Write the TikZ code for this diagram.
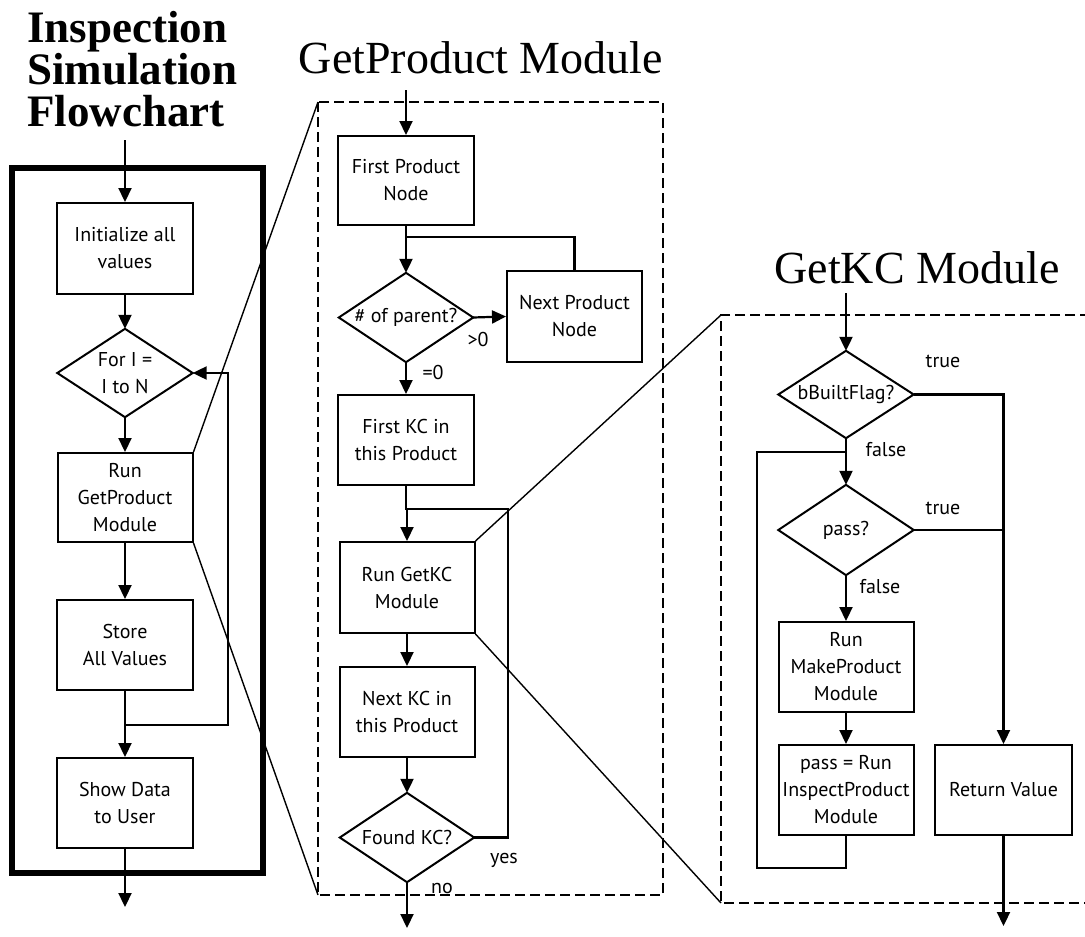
\documentclass[tikz,border=0pt]{standalone}
\usepackage{fontspec}
\setmainfont{Liberation Serif}
\newfontfamily\boxfont{PT Sans}
\usetikzlibrary{arrows.meta}
\newcommand\drawdiam[1]{\draw[diamline] (#1.north) -- (#1.east) -- (#1.south) -- (#1.west) -- cycle;}
\begin{document}
\begin{tikzpicture}[x=1pt,y=-1pt,
  conn/.style={line width=2.2pt,-{Triangle[length=14pt,width=13pt]}},
  plain/.style={line width=2.2pt},
  zoomline/.style={line width=1.4pt},
  frameA/.style={line width=6.5pt},
  frameB/.style={line width=2.2pt,dash pattern=on 10pt off 5pt},
  procbox/.style={draw,line width=2pt,rectangle,inner sep=1pt,align=center,
    font=\boxfont\fontsize{20}{27}\selectfont},
  decision/.style={rectangle,inner sep=0pt,align=center,
    font=\boxfont\fontsize{20}{27}\selectfont},
  diamline/.style={line width=2pt,line join=miter},
  lbl/.style={font=\boxfont\fontsize{20}{22}\selectfont,inner sep=0pt},
  title/.style={font=\fontsize{46}{46}\selectfont,inner sep=0pt}
]
\useasboundingbox (0,0) rectangle (1085,937);
% titles
\node[anchor=north west,align=left,inner sep=0pt,font=\bfseries\fontsize{45}{42}\selectfont] (t1) at (27,11) {Inspection\\Simulation\\Flowchart};
\node[title,anchor=base] (t2) at (481,73) {GetProduct Module};
\node[title,anchor=base] (t3) at (917,283) {GetKC Module};

% ---- left panel
\draw[frameA] (12,168) rectangle (263,873);
\node[procbox,minimum width=136pt,minimum height=91pt] (init) at (125,248.5) {Initialize all\\values};
\node[decision,minimum width=135pt,minimum height=88pt] (fori) at (125,373) {For I =\\I to N};
\drawdiam{fori}
\node[procbox,minimum width=135pt,minimum height=89pt] (rungp) at (125,497.5) {Run\\GetProduct\\Module};
\node[procbox,minimum width=136pt,minimum height=90pt] (store) at (125,645) {Store\\All Values};
\node[procbox,minimum width=136pt,minimum height=90pt] (show) at (125,803) {Show Data\\to User};
\coordinate (inA) at (125,140);
\coordinate (jA) at (125,725);
\coordinate (outA) at (125,907);
\draw[conn] (inA) -- (init.north);
\draw[conn] (init.south) -- (fori.north);
\draw[conn] (fori.south) -- (rungp.north);
\draw[conn] (rungp.south) -- (store.north);
\draw[plain] (store.south) -- (jA);
\draw[conn] (jA) -- (show.north);
\draw[conn] (jA) -- (228,725) -- (228,373) -- (fori.east);
\draw[conn] (show.south) -- (outA);

% ---- middle panel
\draw[frameB] (318,102) rectangle (663,895);
\node[procbox,minimum width=136pt,minimum height=89pt] (fpn) at (406,180.5) {First Product\\Node};
\node[decision,minimum width=134pt,minimum height=89pt] (par) at (406,317.5) {\# of parent?};
\drawdiam{par}
\node[procbox,minimum width=135pt,minimum height=91pt] (npn) at (574.5,316.5) {Next Product\\Node};
\node[procbox,minimum width=136pt,minimum height=90pt] (fkc) at (406,440) {First KC in\\this Product};
\node[procbox,minimum width=135pt,minimum height=91pt] (rkc) at (407,587.5) {Run GetKC\\Module};
\node[procbox,minimum width=135pt,minimum height=90pt] (nkc) at (407,712) {Next KC in\\this Product};
\node[decision,minimum width=134pt,minimum height=89pt] (fnd) at (407,837.5) {Found KC?};
\drawdiam{fnd}
\coordinate (inB) at (406,90);
\coordinate (jB1) at (406,237);
\coordinate (jB2) at (407,509);
\coordinate (outB) at (407,928);
\draw[conn] (inB) -- (fpn.north);
\draw[plain] (fpn.south) -- (jB1);
\draw[conn] (jB1) -- (par.north);
\draw[plain] (npn.north) -- (npn.north |- jB1) -- (jB1);
\draw[conn] (par.east) -- (npn.west);
\draw[conn] (par.south) -- (fkc.north);
\draw[plain] (fkc.south) -- (fkc.south |- jB2) -- (jB2);
\draw[conn] (jB2) -- (rkc.north);
\draw[plain] (fnd.east) -- (508,837.5) -- (508,509) -- (jB2);
\draw[conn] (rkc.south) -- (nkc.north);
\draw[conn] (nkc.south) -- (fnd.north);
\draw[conn] (fnd.south) -- (outB);
\node[lbl] (gt0) at (478,339) {>0};
\node[lbl] (eq0) at (433,372) {=0};
\node[lbl] (yes) at (504,860) {yes};
\node[lbl] (no) at (442,888) {no};

% ---- right panel
\draw[frameB] (1090,315) -- (721,315) -- (721,903) -- (1090,903);
\node[decision,minimum width=135pt,minimum height=87pt] (bbf) at (846,394.5) {bBuiltFlag?};
\drawdiam{bbf}
\node[decision,minimum width=135pt,minimum height=90pt] (pass) at (846,530) {pass?};
\drawdiam{pass}
\node[procbox,minimum width=135pt,minimum height=90pt] (mkp) at (846,667) {Run\\MakeProduct\\Module};
\node[procbox,minimum width=135pt,minimum height=90pt] (insp) at (846,790) {pass = Run\\InspectProduct\\Module};
\node[procbox,minimum width=137pt,minimum height=90pt] (ret) at (1003.5,790) {Return Value};
\coordinate (inC) at (846,293);
\coordinate (jC) at (846,452);
\coordinate (outC) at (1003.5,926);
\coordinate (rC) at (1003.5,394.5);
\draw[conn] (inC) -- (bbf.north);
\draw[plain] (bbf.south) -- (jC);
\draw[conn] (jC) -- (pass.north);
\draw[plain] (insp.south) -- (846,868) -- (757,868) -- (757,452) -- (jC);
\draw[conn] (bbf.east) -- (rC) -- (ret.north);
\draw[plain] (pass.east) -- (1003.5,530);
\draw[conn] (pass.south) -- (mkp.north);
\draw[conn] (mkp.south) -- (insp.north);
\draw[conn] (ret.south) -- (outC);
\node[lbl] (tr1) at (943,361) {true};
\node[lbl] (fa1) at (886,450) {false};
\node[lbl] (tr2) at (943,508) {true};
\node[lbl] (fa2) at (880,587) {false};

% ---- zoom lines
\draw[zoomline] (rungp.north east) -- (318,102);
\draw[zoomline] (rungp.south east) -- (318,895);
\draw[zoomline] (rkc.north east) -- (721,315);
\draw[zoomline] (rkc.south east) -- (721,903);
\end{tikzpicture}
\end{document}
